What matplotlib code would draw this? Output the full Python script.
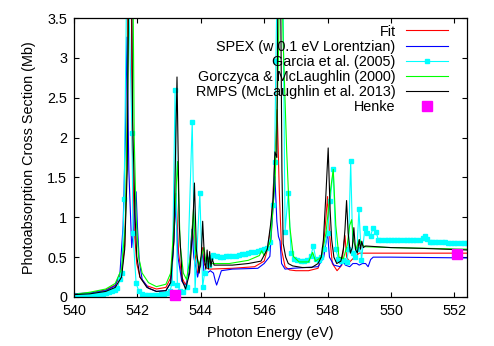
import matplotlib
matplotlib.use("Agg")
import matplotlib.pyplot as plt

plt.rcParams['font.family'] = ['Liberation Sans', 'DejaVu Sans']

# Fit (red)
fit_e = [540.0, 540.5, 541.0, 541.3, 541.5, 541.6, 541.67, 541.72, 541.79, 541.84, 541.9, 541.98,
         542.08, 542.3, 542.6, 542.9, 543.05, 543.14, 543.22, 543.3, 543.4, 543.52, 543.64, 543.74,
         543.8, 543.9, 544.0, 544.05, 544.1, 544.2, 544.3, 545.0, 545.7, 546.0, 546.1, 546.22,
         546.32, 546.41, 546.48, 546.55, 546.66, 546.8, 547.0, 547.4, 547.7, 547.85, 547.94, 548.0,
         548.06, 548.15, 548.3, 548.45, 548.51, 548.55, 548.6, 548.7, 548.85, 549.0, 549.1, 550.0, 552.4]
fit_xs = [0.04, 0.05, 0.09, 0.15, 0.3, 0.65, 1.7, 5.0, 5.0, 1.9, 0.85, 0.42,
          0.25, 0.14, 0.1, 0.12, 0.24, 0.65, 1.3, 0.55, 0.25, 0.15, 0.32, 0.9,
          0.6, 0.3, 0.4, 0.62, 0.42, 0.36, 0.35, 0.36, 0.38, 0.45, 0.59, 0.9,
          1.6, 2.35, 1.3, 0.59, 0.38, 0.34, 0.33, 0.33, 0.36, 0.55, 0.95, 1.26,
          0.8, 0.42, 0.33, 0.4, 0.65, 0.77, 0.5, 0.44, 0.5, 0.55, 0.55, 0.55, 0.55]

# SPEX (blue)
spex_e = [540.0, 540.5, 541.0, 541.3, 541.45, 541.55, 541.62, 541.67, 541.73, 541.82, 541.88, 541.93,
          541.96, 542.0, 542.06, 542.15, 542.35, 542.6, 542.9, 543.05, 543.13, 543.2, 543.28, 543.4,
          543.52, 543.63, 543.72, 543.78, 543.9, 544.0, 544.05, 544.1, 544.2, 544.3, 544.4, 544.46,
          544.5, 544.56, 544.65, 545.0, 545.8, 546.0, 546.18, 546.26, 546.34, 546.4, 546.45, 546.5,
          546.55, 546.66, 546.9, 547.3, 547.7, 547.88, 548.0, 548.06, 548.2, 548.4, 548.5, 548.56,
          548.7, 548.8, 548.92, 549.0, 549.1, 549.2, 549.28, 549.36, 549.44, 550.0, 552.4]
spex_xs = [0.04, 0.05, 0.08, 0.14, 0.3, 0.9, 2.0, 3.26, 1.6, 0.62, 0.85, 1.2,
           1.32, 0.9, 0.45, 0.22, 0.11, 0.07, 0.08, 0.18, 0.55, 1.2, 0.5, 0.2,
           0.13, 0.3, 0.85, 0.5, 0.25, 0.45, 0.55, 0.32, 0.3, 0.33, 0.3, 0.2,
           0.15, 0.22, 0.33, 0.35, 0.36, 0.42, 0.51, 1.0, 1.51, 0.95, 0.76, 0.7,
           0.42, 0.35, 0.36, 0.37, 0.38, 0.5, 0.81, 0.5, 0.4, 0.38, 0.45, 0.4,
           0.38, 0.42, 0.42, 0.4, 0.42, 0.42, 0.38, 0.47, 0.5, 0.5, 0.49]

# Garcia et al. (2005) (cyan, with points)
garcia_e = [540.0, 540.1, 540.2, 540.3, 540.4, 540.5, 540.6, 540.7, 540.8, 540.9, 541.0, 541.1,
            541.19, 541.28, 541.37, 541.45, 541.51, 541.58, 541.68, 541.83, 541.86, 541.96, 542.05,
            542.15, 542.25, 542.35, 542.45, 542.55, 542.65, 542.75, 542.85, 542.95, 543.03, 543.1,
            543.19, 543.26, 543.35, 543.45, 543.57, 543.73, 543.82, 543.97, 544.06, 544.12, 544.19,
            544.26, 544.33, 544.4, 544.5, 544.6, 544.7, 544.8, 544.9, 545.0, 545.1, 545.2, 545.3,
            545.4, 545.5, 545.6, 545.7, 545.8, 545.9, 546.0, 546.1, 546.18, 546.27, 546.33, 546.37,
            546.43, 546.58, 546.66, 546.76, 546.85, 546.95, 547.05, 547.15, 547.25, 547.35, 547.47,
            547.55, 547.63, 547.72, 547.8, 547.9, 548.0, 548.08, 548.18, 548.26, 548.34, 548.42,
            548.5, 548.6, 548.66, 548.73, 548.8, 548.86, 548.93, 548.99, 549.07, 549.18, 549.26,
            549.36, 549.44, 549.53, 549.6, 549.7, 549.8, 549.9, 550.0, 550.1, 550.2, 550.3, 550.4,
            550.5, 550.6, 550.7, 550.8, 550.91, 551.0, 551.07, 551.15, 551.23, 551.3, 551.4, 551.5,
            551.6, 551.7, 551.8, 551.9, 552.0, 552.1, 552.2, 552.3, 552.4]
garcia_xs = [0.01, 0.01, 0.02, 0.02, 0.02, 0.02, 0.03, 0.03, 0.04, 0.04, 0.05, 0.06,
             0.07, 0.09, 0.11, 0.23, 0.30, 1.23, 4.5, 2.06, 0.80, 0.17, 0.07,
             0.04, 0.03, 0.03, 0.03, 0.03, 0.03, 0.04, 0.04, 0.05, 0.08, 0.18,
             2.60, 0.15, 0.08, 0.06, 0.13, 2.20, 0.09, 1.31, 0.13, 0.30, 0.48,
             0.40, 0.50, 0.53, 0.51, 0.50, 0.50, 0.51, 0.51, 0.52, 0.52, 0.53, 0.54,
             0.54, 0.55, 0.56, 0.57, 0.58, 0.59, 0.60, 0.62, 0.69, 1.15, 1.69, 2.96,
             4.5, 4.5, 0.82, 1.31, 0.55, 0.48, 0.46, 0.45, 0.45, 0.46, 0.51,
             0.64, 0.48, 0.46, 0.50, 0.60, 0.80, 1.20, 1.60, 0.60, 0.48, 0.45,
             0.47, 0.44, 0.60, 1.70, 0.55, 0.50, 0.60, 1.10, 0.46, 0.87, 0.80,
             0.77, 0.87, 0.82, 0.72, 0.72, 0.72, 0.71, 0.71, 0.71, 0.71, 0.71, 0.71,
             0.71, 0.71, 0.71, 0.71, 0.71, 0.74, 0.77, 0.73, 0.69, 0.69, 0.69, 0.69,
             0.69, 0.69, 0.68, 0.68, 0.68, 0.68, 0.68, 0.68, 0.68]

# Gorczyca & McLaughlin (2000) (green)
gorc_e = [540.0, 540.5, 541.0, 541.3, 541.5, 541.62, 541.7, 541.76, 541.84, 541.9, 541.96, 542.04,
          542.15, 542.35, 542.6, 542.9, 543.05, 543.17, 543.27, 543.35, 543.45, 543.55, 543.67, 543.77,
          543.84, 543.95, 544.05, 544.1, 544.16, 544.22, 544.3, 544.5, 544.9, 545.5, 545.85, 545.92,
          546.0, 546.2, 546.35, 546.45, 546.52, 546.6, 546.71, 546.81, 546.92, 547.1, 547.4, 547.53,
          547.62, 547.8, 547.95, 548.08, 548.18, 548.26, 548.36, 548.5, 548.62, 548.7, 548.76, 548.82,
          548.9, 549.0, 549.1, 549.2, 550.0, 552.4]
gorc_xs = [0.03, 0.06, 0.1, 0.17, 0.35, 0.9, 2.8, 5.0, 5.0, 2.0, 1.0, 0.5,
           0.3, 0.18, 0.13, 0.16, 0.3, 1.0, 1.7, 0.65, 0.3, 0.22, 0.5, 1.1,
           0.55, 0.4, 0.55, 0.62, 0.45, 0.5, 0.42, 0.42, 0.42, 0.46, 0.52, 0.58,
           0.52, 0.7, 1.5, 3.0, 5.0, 3.2, 1.84, 0.88, 0.51, 0.44, 0.44, 0.56,
           0.45, 0.5, 0.8, 1.3, 1.6, 0.9, 0.5, 0.48, 0.65, 0.9, 0.97, 0.7,
           0.6, 0.72, 0.65, 0.63, 0.62, 0.6]

# RMPS (McLaughlin et al. 2013) (black)
rmps_e = [540.0, 540.5, 541.0, 541.3, 541.5, 541.6, 541.68, 541.74, 541.8, 541.85, 541.92, 541.98,
          542.08, 542.3, 542.6, 542.9, 543.05, 543.15, 543.25, 543.32, 543.42, 543.52, 543.65, 543.75,
          543.8, 543.86, 543.95, 544.02, 544.06, 544.12, 544.16, 544.2, 544.24, 544.28, 544.32, 544.36,
          544.42, 544.6, 545.0, 545.5, 545.9, 546.1, 546.2, 546.29, 546.34, 546.4, 546.45, 546.5,
          546.56, 546.6, 546.68, 546.76, 546.9, 547.2, 547.5, 547.7, 547.8, 547.87, 547.95, 548.02,
          548.08, 548.13, 548.2, 548.29, 548.42, 548.5, 548.55, 548.6, 548.65, 548.72, 548.78, 548.83,
          548.88, 548.94, 549.0, 549.04, 549.08, 549.13, 549.2, 550.0, 551.0, 552.4]
rmps_xs = [0.03, 0.04, 0.07, 0.12, 0.25, 0.6, 1.6, 5.0, 5.0, 2.2, 1.09, 0.51,
           0.25, 0.12, 0.07, 0.08, 0.18, 0.7, 2.76, 0.9, 0.2, 0.1, 0.3, 0.9,
           1.43, 0.6, 0.3, 0.55, 0.95, 0.45, 0.35, 0.59, 0.35, 0.57, 0.38, 0.48,
           0.40, 0.40, 0.40, 0.42, 0.45, 0.6, 0.9, 1.26, 1.82, 1.75, 5.0, 5.0,
           1.6, 0.67, 0.5, 0.42, 0.39, 0.37, 0.37, 0.42, 0.5, 0.72, 1.3, 1.87,
           1.1, 0.72, 0.5, 0.42, 0.45, 0.6, 0.85, 1.21, 0.8, 0.55, 0.62, 0.87,
           0.6, 0.55, 0.72, 0.6, 0.7, 0.62, 0.64, 0.62, 0.61, 0.59]

# Henke
henke_e = [543.2, 552.09]
henke_xs = [0.031, 0.54]

fig = plt.figure(figsize=(4.94, 3.46), dpi=100)
ax = fig.add_axes([74 / 494, 49 / 346, 393 / 494, 279 / 346])

lw = 0.8
ax.plot(fit_e, fit_xs, color='#ff0000', lw=lw, label='Fit')
ax.plot(spex_e, spex_xs, color='#0000ff', lw=lw, label='SPEX (w 0.1 eV Lorentzian)')
ax.plot(garcia_e, garcia_xs, color='#00ffff', lw=lw, marker='s', ms=3.2, mec='#00ffff',
        label='Garcia et al. (2005)')
ax.plot(gorc_e, gorc_xs, color='#00ff00', lw=lw, label='Gorczyca & McLaughlin (2000)')
ax.plot(rmps_e, rmps_xs, color='black', lw=lw, label='RMPS (McLaughlin et al. 2013)')
ax.plot(henke_e, henke_xs, ls='none', marker='s', ms=6.5, color='#ff00ff', clip_on=False,
        label='Henke', zorder=5)

ax.set_xlim(540, 552.4)
ax.set_ylim(0, 3.5)
ax.set_xticks([540, 542, 544, 546, 548, 550, 552])
ax.set_yticks([0, 0.5, 1, 1.5, 2, 2.5, 3, 3.5])
ax.set_yticklabels(['0', '0.5', '1', '1.5', '2', '2.5', '3', '3.5'])
ax.tick_params(direction='in', length=3.6, width=0.8, top=True, right=True,
               labelsize=10.4, pad=5)
for s in ax.spines.values():
    s.set_linewidth(0.9)

ax.set_xlabel('Photon Energy (eV)', fontsize=10.4, labelpad=6)
ax.set_ylabel('Photoabsorption Cross Section (Mb)', fontsize=10.4, labelpad=8)

ax.legend(loc='upper right', bbox_to_anchor=(0.967, 1.0), frameon=False,
          markerfirst=False, numpoints=1, fontsize=10.4, handlelength=2.9,
          handletextpad=0.7, labelspacing=0.08, borderaxespad=0.15, borderpad=0.3)

fig.savefig('out.png', dpi=100)
